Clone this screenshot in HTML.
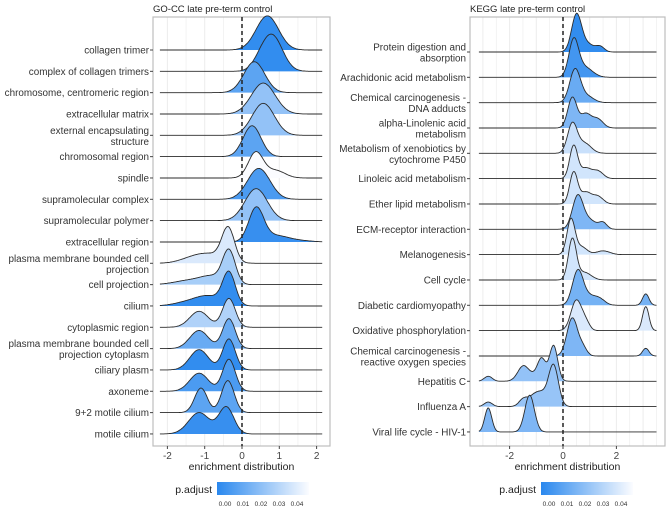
<!DOCTYPE html>
<html><head><meta charset="utf-8">
<style>
html,body{margin:0;padding:0;background:#fff;}
svg{display:block;font-family:"Liberation Sans",sans-serif;}
</style></head>
<body>
<svg id="chart" width="669" height="515" viewBox="0 0 669 515">
<defs>
<linearGradient id="grad" x1="0" x2="1" y1="0" y2="0">
<stop offset="0" stop-color="#2a88ee"/><stop offset="1" stop-color="#fbfcff"/>
</linearGradient>
</defs>
</svg>
<script>
// ---------- LEFT PANEL DATA (GO-CC) ----------
const goTerms = ["collagen trimer","complex of collagen trimers","chromosome, centromeric region","extracellular matrix","external encapsulating|structure","chromosomal region","spindle","supramolecular complex","supramolecular polymer","extracellular region","plasma membrane bounded cell|projection","cell projection","cilium","cytoplasmic region","plasma membrane bounded cell|projection cytoplasm","ciliary plasm","axoneme","9+2 motile cilium","motile cilium"];
const goPadj = [0.002,0.002,0.012,0.025,0.025,0.012,0.05,0.008,0.025,0.003,0.042,0.03,0.002,0.032,0.015,0.002,0.008,0.012,0.003];
// components per row: [mean, sd, amplitude(row units)]
const goComps = [
 [[0.68,0.3,1.6]],
 [[0.8,0.28,1.7],[0.45,0.2,0.2]],
 [[0.33,0.28,1.45]],
 [[0.57,0.32,1.45]],
 [[0.57,0.3,1.5]],
 [[0.27,0.24,1.45]],
 [[0.37,0.2,1.2],[0.9,0.25,0.35]],
 [[0.45,0.3,1.45]],
 [[0.38,0.3,1.5]],
 [[0.38,0.2,1.55],[0.9,0.35,0.3],[1.6,0.3,0.05]],
 [[-0.37,0.17,1.55],[-0.8,0.35,0.35],[-1.3,0.35,0.25]],
 [[-0.35,0.17,1.55],[-0.8,0.3,0.35],[-1.4,0.4,0.2]],
 [[-0.35,0.17,1.5],[-0.9,0.35,0.45],[-1.5,0.35,0.15]],
 [[-0.35,0.17,1.35],[-1.15,0.25,0.75]],
 [[-0.35,0.17,1.4],[-1.15,0.25,0.85]],
 [[-0.35,0.17,1.45],[-1.15,0.25,0.95]],
 [[-0.35,0.17,1.5],[-1.15,0.25,0.85]],
 [[-0.38,0.17,1.5],[-1.1,0.17,1.15]],
 [[-0.42,0.2,1.25],[-1.15,0.28,1.0]]
];
const goTicks = [-2,-1,0,1,2];

// ---------- RIGHT PANEL DATA (KEGG) ----------
const keggTerms = ["Protein digestion and|absorption","Arachidonic acid metabolism","Chemical carcinogenesis -|DNA adducts","alpha-Linolenic acid|metabolism","Metabolism of xenobiotics by|cytochrome P450","Linoleic acid metabolism","Ether lipid metabolism","ECM-receptor interaction","Melanogenesis","Cell cycle","Diabetic cardiomyopathy","Oxidative phosphorylation","Chemical carcinogenesis -|reactive oxygen species","Hepatitis C","Influenza A","Viral life cycle - HIV-1"];
const keggPadj = [0.002,0.006,0.015,0.02,0.038,0.04,0.04,0.02,0.04,0.04,0.018,0.042,0.02,0.025,0.026,0.02];
const keggComps = [
 [[0.5,0.18,1.35],[0.85,0.3,0.35],[1.4,0.15,0.18]],
 [[0.4,0.18,1.4],[0.8,0.3,0.4]],
 [[0.45,0.2,1.3],[0.9,0.25,0.25]],
 [[0.35,0.17,1.2],[0.85,0.2,0.55],[1.3,0.2,0.35]],
 [[0.35,0.18,1.15],[0.8,0.25,0.4]],
 [[0.4,0.15,1.3],[0.85,0.2,0.4],[1.3,0.2,0.3]],
 [[0.4,0.15,1.25],[0.85,0.2,0.45],[1.3,0.2,0.3]],
 [[0.55,0.2,1.3],[1.0,0.25,0.35],[1.5,0.15,0.25]],
 [[0.3,0.15,1.4],[0.7,0.2,0.3],[1.5,0.25,0.15]],
 [[0.35,0.15,1.6],[0.8,0.25,0.3]],
 [[0.55,0.2,1.3],[1.0,0.3,0.35],[1.4,0.2,0.15],[3.1,0.12,0.45]],
 [[0.5,0.2,1.2],[0.85,0.15,0.3],[3.1,0.12,0.95]],
 [[0.35,0.2,1.5],[0.75,0.15,0.3],[3.1,0.12,0.3]],
 [[-0.35,0.15,1.35],[-0.8,0.15,0.7],[-1.5,0.2,0.5],[-1.0,0.4,0.25],[-2.8,0.15,0.2]],
 [[-0.35,0.18,1.5],[-0.9,0.35,0.6],[-1.5,0.15,0.2],[-2.8,0.15,0.18]],
 [[-1.25,0.18,1.45],[-2.8,0.13,0.95]]
];
const keggTicks = [-2,0,2];
const legendTicks = [0.00,0.01,0.02,0.03,0.04];

const NS="http://www.w3.org/2000/svg";
const svg=document.getElementById('chart');
function mk(tag,attrs,parent){const e=document.createElementNS(NS,tag);for(const k in attrs)e.setAttribute(k,attrs[k]);(parent||svg).appendChild(e);return e;}
function col(p){const t=Math.min(p/0.05,1);const a=[42,136,238],b=[251,252,255];return `rgb(${a.map((v,i)=>Math.round(v+(b[i]-v)*t)).join(',')})`;}

function panel(cfg){
 const g=mk('g',{});
 
 
 const X=v=>cfg.x0+(v-cfg.v0)*cfg.ppu;
 const t=mk('text',{x:cfg.titleX,y:12,'font-size':9.5,fill:'#222'},g);t.textContent=cfg.title;
 
 for(let v=Math.ceil(cfg.lo*2)/2; v<=cfg.hi; v+=0.5){
  const l=mk('line',{x1:X(v),x2:X(v),y1:cfg.top,y2:cfg.bot,stroke:'#ececec','stroke-width':Number.isInteger(v)?1:0.6},g);
  
 }
 const border=mk('rect',{x:cfg.left,y:cfg.top,width:cfg.right-cfg.left,height:cfg.bot-cfg.top,fill:'none',stroke:'#bdbdbd','stroke-width':1.2},g);
 
 const base=i=>cfg.y0+i*cfg.step;
 cfg.comps.forEach((cs,i)=>{
  const yb=base(i);const pts=[];
  for(let k=0;k<=200;k++){const v=cfg.lmin+(cfg.lmax-cfg.lmin)*k/200;let d=0;cs.forEach(c=>{d+=c[2]*Math.exp(-0.5*((v-c[0])/c[1])**2);});pts.push([X(v),yb-d*cfg.step]);}
  const line=pts.map((p,k)=>(k?'L':'M')+p[0].toFixed(1)+','+p[1].toFixed(1)).join('');
  const area=line+`L${pts[pts.length-1][0].toFixed(1)},${yb}L${pts[0][0].toFixed(1)},${yb}Z`;
  const a=mk('path',{d:area,fill:col(cfg.padj[i]),stroke:'none'},g);
  
  const p=mk('path',{d:line,fill:'none',stroke:'#2b2b2b','stroke-width':0.9},g);
  
 });
 const z=mk('line',{x1:X(0),x2:X(0),y1:cfg.top,y2:cfg.bot,stroke:'#222','stroke-width':1.5,'stroke-dasharray':'4,3'},g);
 
 cfg.terms.forEach((s,i)=>{
  const yb=base(i);const parts=s.split('|');
  const tk=mk('line',{x1:cfg.left-3,x2:cfg.left,y1:yb,y2:yb,stroke:'#444'},g);
  
  parts.forEach((ps,j)=>{
   const yy=parts.length==1?yb+3.5:yb-1.5+j*11;
   const tx=mk('text',{x:cfg.left-4,y:yy,'font-size':9.9,fill:'#333','text-anchor':'end'},g);tx.textContent=ps;
   
  });
 });
 cfg.ticks.forEach(v=>{
  const tk=mk('line',{x1:X(v),x2:X(v),y1:cfg.bot,y2:cfg.bot+3,stroke:'#444'},g);
  
  const tx=mk('text',{x:X(v),y:cfg.bot+13,'font-size':10,fill:'#444','text-anchor':'middle'},g);tx.textContent=v<0?'-'+Math.abs(v):v;
  
 });
 const at=mk('text',{x:(cfg.left+cfg.right)/2,y:cfg.bot+24,'font-size':10.5,fill:'#222','text-anchor':'middle'},g);at.textContent='enrichment distribution';
 
 const lg=mk('g',{},g);
 const lt=mk('text',{x:cfg.legX-5,y:493,'font-size':10.5,fill:'#222','text-anchor':'end'},lg);lt.textContent='p.adjust';
 
 const bar=mk('rect',{x:cfg.legX,y:482,width:92,height:13,fill:'url(#grad)'},lg);
 
 legendTicks.forEach(v=>{
  const lx=cfg.legX+8+v*1800;
  const tx=mk('text',{x:lx,y:506,'font-size':6.5,fill:'#333','text-anchor':'middle'},lg);tx.textContent=v.toFixed(2);
  
 });
}
panel({name:'go-cc-panel',title:'GO-CC late pre-term control',titleX:153,terms:goTerms,padj:goPadj,comps:goComps,ticks:goTicks,
 left:153,right:330,top:17,bot:446,x0:242,v0:0,ppu:37.3,lo:-2.4,hi:2.35,lmin:-2.2,lmax:2.15,y0:50,step:21.33,legX:217});
panel({name:'kegg-panel',title:'KEGG late pre-term control',titleX:470,terms:keggTerms,padj:keggPadj,comps:keggComps,ticks:keggTicks,
 left:470,right:665,top:17,bot:446,x0:563,v0:0,ppu:26.7,lo:-3.4,hi:3.8,lmin:-3.15,lmax:3.5,y0:52,step:25.33,legX:541});
</script>
</body></html>
